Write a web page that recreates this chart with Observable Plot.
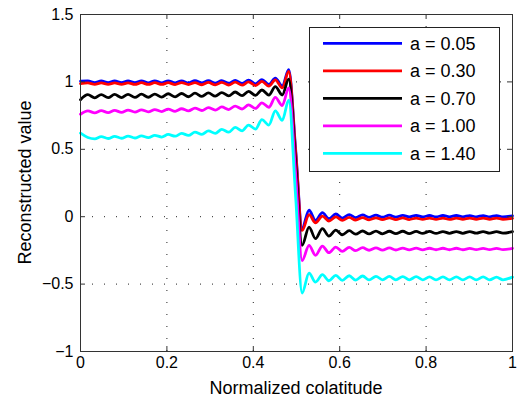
<!DOCTYPE html>
<html><head><meta charset="utf-8">
<script src="https://cdn.jsdelivr.net/npm/d3@7"></script>
<script src="https://cdn.jsdelivr.net/npm/@observablehq/plot@0.6"></script>
<style>html,body{margin:0;padding:0;background:#fff} svg{display:block}</style>
</head><body><div id="chart"></div>
<script>
// x positions of the read-off extrema (normalized colatitude)
const xs = [
  0, 0.017, 0.033, 0.048, 0.064, 0.079, 0.095, 0.110, 0.126, 0.141, 0.157, 0.172, 0.188, 0.203, 0.219, 0.234,
  0.250, 0.265, 0.281, 0.296, 0.312, 0.327, 0.343, 0.358, 0.374, 0.389, 0.405, 0.420, 0.436, 0.451, 0.467, 0.482,
  0.498,
  0.513, 0.529, 0.544, 0.560, 0.575, 0.591, 0.606, 0.622, 0.637, 0.653, 0.668, 0.684, 0.699, 0.715, 0.730, 0.746,
  0.761, 0.777, 0.792, 0.808, 0.823, 0.839, 0.854, 0.870, 0.885, 0.901, 0.916, 0.932, 0.947, 0.963, 0.978, 1.0
];
const seriesLabels = ["a = 0.05", "a = 0.30", "a = 0.70", "a = 1.00", "a = 1.40"];
const seriesColors = ["#0000ff", "#ff0000", "#000000", "#ff00ff", "#00ffff"];

const a005 = [
  1.005, 1.008, 0.995, 1.007, 0.994, 1.007, 0.994, 1.007, 0.994, 1.007, 0.993, 1.008, 0.993, 1.008, 0.993, 1.008,
  0.992, 1.009, 0.992, 1.009, 0.991, 1.010, 0.990, 1.011, 0.989, 1.013, 0.986, 1.017, 0.982, 1.028, 0.970, 1.090,
  0.50,
  -0.085, 0.048, -0.028, 0.030, -0.015, 0.020, -0.010, 0.016, -0.007, 0.014, -0.005, 0.012, -0.004, 0.011, -0.003, 0.010,
  -0.002, 0.010, -0.002, 0.009, -0.002, 0.009, -0.001, 0.009, -0.001, 0.008, -0.001, 0.008, -0.001, 0.008, -0.001, 0.006
];
const a030 = [
  0.988, 0.993, 0.982, 0.993, 0.982, 0.993, 0.982, 0.993, 0.981, 0.994, 0.981, 0.994, 0.981, 0.994, 0.980, 0.995,
  0.980, 0.995, 0.979, 0.996, 0.978, 0.997, 0.977, 0.998, 0.976, 1.000, 0.973, 1.004, 0.968, 1.015, 0.955, 1.077,
  0.48,
  -0.102, 0.015, -0.045, 0.005, -0.032, -0.002, -0.027, -0.005, -0.025, -0.007, -0.023, -0.008, -0.022, -0.009, -0.021, -0.009,
  -0.021, -0.010, -0.020, -0.010, -0.020, -0.010, -0.020, -0.011, -0.019, -0.011, -0.019, -0.011, -0.019, -0.011, -0.019, -0.012
];
const a070 = [
  0.868, 0.905, 0.882, 0.906, 0.883, 0.907, 0.884, 0.908, 0.885, 0.909, 0.886, 0.910, 0.887, 0.912, 0.889, 0.914,
  0.890, 0.916, 0.892, 0.918, 0.894, 0.921, 0.896, 0.925, 0.898, 0.930, 0.900, 0.940, 0.902, 0.965, 0.903, 1.020,
  0.40,
  -0.212, -0.077, -0.163, -0.089, -0.144, -0.100, -0.134, -0.104, -0.130, -0.106, -0.128, -0.107, -0.127, -0.108, -0.126, -0.108,
  -0.125, -0.109, -0.124, -0.109, -0.124, -0.110, -0.123, -0.110, -0.123, -0.110, -0.122, -0.110, -0.122, -0.111, -0.122, -0.111
];
const a100 = [
  0.760, 0.785, 0.770, 0.787, 0.772, 0.789, 0.774, 0.791, 0.776, 0.793, 0.778, 0.795, 0.780, 0.798, 0.782, 0.801,
  0.785, 0.805, 0.788, 0.809, 0.791, 0.814, 0.795, 0.821, 0.799, 0.830, 0.803, 0.845, 0.812, 0.885, 0.825, 0.955,
  0.32,
  -0.325, -0.213, -0.287, -0.218, -0.267, -0.225, -0.257, -0.228, -0.252, -0.230, -0.249, -0.231, -0.248, -0.232, -0.247, -0.233,
  -0.246, -0.233, -0.246, -0.234, -0.245, -0.234, -0.245, -0.234, -0.245, -0.235, -0.244, -0.235, -0.244, -0.235, -0.244, -0.235
];
const a140 = [
  0.620, 0.588, 0.578, 0.594, 0.580, 0.596, 0.582, 0.598, 0.584, 0.600, 0.587, 0.604, 0.591, 0.610, 0.597, 0.618,
  0.603, 0.627, 0.610, 0.637, 0.618, 0.648, 0.627, 0.662, 0.637, 0.680, 0.650, 0.720, 0.680, 0.785, 0.715, 0.865,
  0.15,
  -0.566, -0.418, -0.485, -0.430, -0.475, -0.435, -0.472, -0.438, -0.470, -0.440, -0.469, -0.442, -0.468, -0.443, -0.468, -0.444,
  -0.468, -0.445, -0.468, -0.446, -0.468, -0.446, -0.468, -0.447, -0.468, -0.447, -0.468, -0.447, -0.468, -0.448, -0.468, -0.448
];

const xTicks = [0, 0.2, 0.4, 0.6, 0.8, 1];
const xTickLabels = ["0", "0.2", "0.4", "0.6", "0.8", "1"];
const yTicks = [-1, -0.5, 0, 0.5, 1, 1.5];
const yTickLabels = ["\u22121", "\u22120.5", "0", "0.5", "1", "1.5"];
const xTitle = "Normalized colatitude";
const yTitle = "Reconstructed value";

const allSeries = [a005, a030, a070, a100, a140];
const data = allSeries.flatMap((vals, si) => vals.map((v, i) => ({x: xs[i], y: v, s: seriesLabels[si]})));

const W = 519, H = 402, mL = 80, mR = 7, mT = 14, mB = 51;
const innerW = W - mL - mR, innerH = H - mT - mB;
const font = "'Liberation Sans', Arial, Helvetica, sans-serif";
const axisColor = "#333";

const chart = Plot.plot({
  width: W, height: H,
  marginLeft: mL, marginRight: mR, marginTop: mT, marginBottom: mB,
  style: {fontFamily: font, fontSize: "16px", background: "#fff", color: "#000"},
  x: {domain: [0, 1]},
  y: {domain: [-1, 1.5]},
  color: {domain: seriesLabels, range: seriesColors},
  marks: [
    Plot.gridX(xTicks, {stroke: "#222", strokeOpacity: 1, strokeWidth: 1, strokeDasharray: "1,11"}),
    Plot.gridY(yTicks, {stroke: "#222", strokeOpacity: 1, strokeWidth: 1, strokeDasharray: "1,11"}),
    Plot.line(data, {x: "x", y: "y", z: "s", stroke: "s", curve: "monotone-x", strokeWidth: 2.8}),
    Plot.frame({stroke: axisColor, strokeWidth: 1}),
    Plot.ruleX(xTicks, {x: d => d, insetTop: innerH - 5, stroke: axisColor}),
    Plot.ruleX(xTicks, {x: d => d, insetBottom: innerH - 5, stroke: axisColor}),
    Plot.ruleY(yTicks, {y: d => d, insetRight: innerW - 5, stroke: axisColor}),
    Plot.ruleY(yTicks, {y: d => d, insetLeft: innerW - 5, stroke: axisColor}),
    Plot.axisX(xTicks, {tickSize: 0, tickPadding: 5, fontSize: 16, label: null,
      tickFormat: d => xTickLabels[xTicks.indexOf(d)]}),
    Plot.axisY(yTicks, {tickSize: 0, tickPadding: 7, fontSize: 16, label: null,
      tickFormat: d => yTickLabels[yTicks.indexOf(d)]})
  ]
});
document.getElementById("chart").appendChild(chart);

const svg = d3.select(chart);
svg.append("text").attr("x", mL + innerW / 2).attr("y", 394)
  .attr("text-anchor", "middle").attr("font-family", font).attr("font-size", 18).attr("fill", "#000")
  .text(xTitle);
svg.append("text").attr("transform", `translate(31,${mT + innerH / 2}) rotate(-90)`)
  .attr("text-anchor", "middle").attr("font-family", font).attr("font-size", 18).attr("fill", "#000")
  .text(yTitle);

// legend box
const lg = svg.append("g");
lg.append("rect").attr("x", 309.5).attr("y", 27.5).attr("width", 190).attr("height", 144)
  .attr("fill", "#fff").attr("stroke", "#222").attr("stroke-width", 1);
seriesLabels.forEach((lab, i) => {
  const yy = 43.3 + i * 27.5;
  lg.append("line").attr("x1", 323).attr("x2", 402).attr("y1", yy).attr("y2", yy)
    .attr("stroke", seriesColors[i]).attr("stroke-width", 2.8);
  lg.append("text").attr("x", 410).attr("y", yy + 6.5).attr("text-anchor", "start")
    .attr("font-family", font).attr("font-size", 18).attr("fill", "#000").text(lab);
});
</script>
</body></html>
